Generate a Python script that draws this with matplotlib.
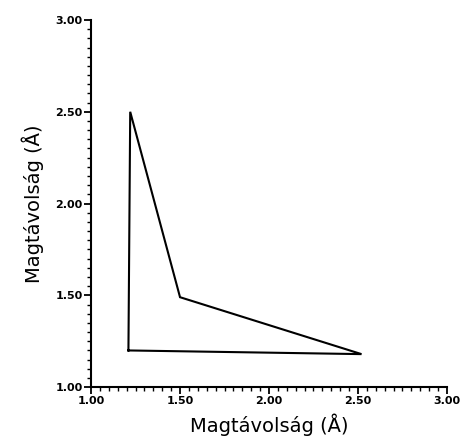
import matplotlib
matplotlib.use("Agg")
import matplotlib.pyplot as plt
from matplotlib.ticker import MultipleLocator, FormatStrFormatter

# Polygon vertices (closed path), distances in Å
x_vals = [1.21, 1.22, 1.50, 2.52, 1.21]
y_vals = [1.20, 2.50, 1.49, 1.18, 1.20]

x_ticks = [1.00, 1.50, 2.00, 2.50, 3.00]
y_ticks = [1.00, 1.50, 2.00, 2.50, 3.00]
axis_label = "Magtávolság (Å)"

fig = plt.figure(figsize=(4.67, 4.44), dpi=100)
ax = fig.add_axes([0.195, 0.128, 0.762, 0.827])

ax.plot(x_vals, y_vals, color="black", lw=1.5, solid_joinstyle="miter")

ax.set_xlim(1.0, 3.0)
ax.set_ylim(1.0, 3.0)
ax.set_xticks(x_ticks)
ax.set_yticks(y_ticks)
ax.xaxis.set_minor_locator(MultipleLocator(0.05))
ax.yaxis.set_minor_locator(MultipleLocator(0.05))
ax.xaxis.set_major_formatter(FormatStrFormatter("%.2f"))
ax.yaxis.set_major_formatter(FormatStrFormatter("%.2f"))

for s in ("top", "right"):
    ax.spines[s].set_visible(False)
for s in ("left", "bottom"):
    ax.spines[s].set_linewidth(1.5)

ax.tick_params(which="major", direction="out", length=5, width=1.3,
               labelsize=8, pad=1)
ax.tick_params(which="minor", direction="out", length=3, width=1.0)
for lab in ax.get_xticklabels() + ax.get_yticklabels():
    lab.set_fontweight("bold")

ax.set_xlabel(axis_label, fontsize=14, labelpad=6)
ax.set_ylabel(axis_label, fontsize=14, labelpad=8)

fig.savefig("out.png", dpi=100)
